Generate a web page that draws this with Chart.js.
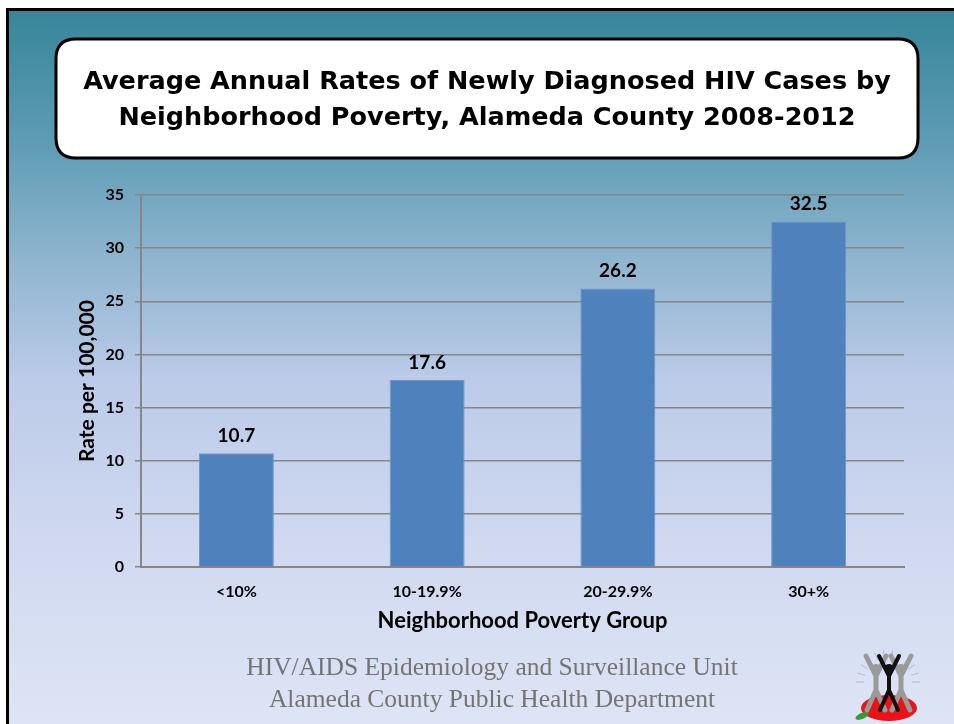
<!DOCTYPE html>
<html>
<head>
<meta charset="utf-8">
<script src="https://cdn.jsdelivr.net/npm/chart.js@4"></script>
<style>
  html, body { margin: 0; padding: 0; background: #fff; }
  #wrap { width: 954px; height: 724px; position: relative; }
</style>
</head>
<body>
<div id="wrap"><canvas id="chart" width="954" height="724"></canvas></div>
<script>
// --- Data ---
const categories = ['<10%', '10-19.9%', '20-29.9%', '30+%'];
const rates = [10.7, 17.6, 26.2, 32.5];
const yTicks = [0, 5, 10, 15, 20, 25, 30, 35];

const titleLines = [
    'Average Annual Rates of Newly Diagnosed HIV Cases by',
    'Neighborhood Poverty, Alameda County 2008-2012'
];
const footerLines = [
    'HIV/AIDS Epidemiology and Surveillance Unit',
    'Alameda County Public Health Department'
];

const COLORS = {
    bar: '#4f81bd',
    barEdge: '#6b96cc',
    grid: '#868686',
    text: '#000000',
    footer: '#747474'
};

const FONT = 'Lato, "Open Sans", sans-serif';

function roundRect(ctx, x, y, w, h, r) {
    ctx.beginPath();
    ctx.moveTo(x + r, y);
    ctx.lineTo(x + w - r, y);
    ctx.quadraticCurveTo(x + w, y, x + w, y + r);
    ctx.lineTo(x + w, y + h - r);
    ctx.quadraticCurveTo(x + w, y + h, x + w - r, y + h);
    ctx.lineTo(x + r, y + h);
    ctx.quadraticCurveTo(x, y + h, x, y + h - r);
    ctx.lineTo(x, y + r);
    ctx.quadraticCurveTo(x, y, x + r, y);
    ctx.closePath();
}

// slide background, title box, footer and logo
const slidePlugin = {
    id: 'slide',
    beforeDraw(chart) {
        const ctx = chart.ctx;
        ctx.save();
        ctx.fillStyle = '#ffffff';
        ctx.fillRect(0, 0, 954, 724);

        const g = ctx.createLinearGradient(0, 10, 0, 724);
        g.addColorStop(0, '#37859a');
        g.addColorStop(0.18, '#5c9bb3');
        g.addColorStop(0.35, '#8fb5cf');
        g.addColorStop(0.52, '#bccbe9');
        g.addColorStop(0.75, '#d0d9f0');
        g.addColorStop(1, '#dde4f5');
        ctx.fillStyle = g;
        ctx.fillRect(7, 10, 947, 714);

        ctx.fillStyle = '#000';
        ctx.fillRect(6, 8, 948, 3);
        ctx.fillRect(6, 8, 3, 716);

        // title box
        roundRect(ctx, 56, 39, 862, 119, 20);
        ctx.fillStyle = '#ffffff';
        ctx.fill();
        ctx.lineWidth = 3;
        ctx.strokeStyle = '#000';
        ctx.stroke();

        ctx.fillStyle = '#000';
        ctx.font = 'bold 25.5px "DejaVu Sans", Verdana, sans-serif';
        ctx.textAlign = 'center';
        ctx.textBaseline = 'middle';
        ctx.fillText(titleLines[0], 487, 82);
        ctx.fillText(titleLines[1], 487, 118);

        // footer
        ctx.fillStyle = COLORS.footer;
        ctx.font = '25.5px "Liberation Serif", serif';
        ctx.fillText(footerLines[0], 492, 668);
        ctx.fillText(footerLines[1], 492, 700);

        drawLogo(ctx);
        ctx.restore();
    }
};

function drawLogo(ctx) {
    ctx.save();
    // rays
    ctx.strokeStyle = 'rgba(150,150,150,0.5)';
    ctx.lineWidth = 1;
    for (let a = 0; a < 12; a++) {
        const t = Math.PI + a * Math.PI / 11;
        ctx.beginPath();
        ctx.moveTo(888 + Math.cos(t) * 24, 682 + Math.sin(t) * 24);
        ctx.lineTo(888 + Math.cos(t) * 32, 682 + Math.sin(t) * 32);
        ctx.stroke();
    }
    // red blob
    ctx.fillStyle = '#e8141a';
    ctx.beginPath();
    ctx.ellipse(889, 708, 28, 13, 0, 0, Math.PI * 2);
    ctx.fill();
    // leaf
    ctx.fillStyle = '#3a9a3a';
    ctx.beginPath();
    ctx.ellipse(862, 716, 7, 3, -0.4, 0, Math.PI * 2);
    ctx.fill();
    // figures
    const fig = (cx, color, w) => {
        ctx.strokeStyle = color;
        ctx.fillStyle = color;
        ctx.lineWidth = w;
        ctx.lineCap = 'round';
        ctx.beginPath();
        ctx.arc(cx, 668, 4, 0, Math.PI * 2);
        ctx.fill();
        ctx.beginPath();
        ctx.moveTo(cx - 10, 656); ctx.lineTo(cx, 676); ctx.lineTo(cx + 10, 656);
        ctx.moveTo(cx, 676); ctx.lineTo(cx, 690);
        ctx.moveTo(cx - 9, 710); ctx.lineTo(cx, 690); ctx.lineTo(cx + 9, 710);
        ctx.stroke();
    };
    fig(876, '#9a9a9a', 5);
    fig(901, '#9a9a9a', 5);
    fig(889, '#111111', 4);
    ctx.restore();
}

// value labels above bars
const valueLabels = {
    id: 'valueLabels',
    afterDatasetsDraw(chart) {
        const ctx = chart.ctx;
        const meta = chart.getDatasetMeta(0);
        ctx.save();
        ctx.fillStyle = COLORS.text;
        ctx.font = 'bold 19px ' + FONT;
        ctx.textAlign = 'center';
        ctx.textBaseline = 'bottom';
        meta.data.forEach((bar, i) => {
            ctx.fillText(rates[i].toFixed(1), bar.x, bar.y - 8);
        });
        ctx.restore();
    }
};

new Chart(document.getElementById('chart'), {
    type: 'bar',
    data: {
        labels: categories,
        datasets: [{
            label: 'Rate per 100,000',
            data: rates,
            backgroundColor: COLORS.bar,
            borderColor: COLORS.barEdge,
            borderWidth: 1,
            barPercentage: 0.393,
            categoryPercentage: 1.0
        }]
    },
    options: {
        responsive: false,
        animation: false,
        devicePixelRatio: 1,
        layout: { padding: { left: 0, top: 195, right: 50, bottom: 90 } },
        plugins: { legend: { display: false }, tooltip: { enabled: false } },
        scales: {
            x: {
                grid: { display: false, drawTicks: false },
                border: { display: true, color: COLORS.grid, width: 2 },
                ticks: { color: COLORS.text, padding: 15, font: { family: FONT, size: 16, weight: 'bold' } },
                title: {
                    display: true,
                    text: 'Neighborhood Poverty Group',
                    color: COLORS.text,
                    padding: { top: 0, bottom: 0 },
                    font: { family: FONT, size: 22, weight: 'bold' }
                },
                afterFit(scale) { scale.height = 67; }
            },
            y: {
                min: 0,
                max: 35,
                afterBuildTicks(scale) { scale.ticks = yTicks.map(v => ({ value: v })); },
                grid: { color: COLORS.grid, lineWidth: 1.5, tickLength: 6 },
                border: { display: true, color: COLORS.grid, width: 2 },
                ticks: { color: COLORS.text, padding: 11, font: { family: FONT, size: 16, weight: 'bold' } },
                title: {
                    display: true,
                    text: 'Rate per 100,000',
                    color: COLORS.text,
                    padding: { top: 75, bottom: 0 },
                    font: { family: FONT, size: 21, weight: 'bold' }
                },
                afterFit(scale) { scale.width = 141; }
            }
        }
    },
    plugins: [slidePlugin, valueLabels]
});
</script>
</body>
</html>
